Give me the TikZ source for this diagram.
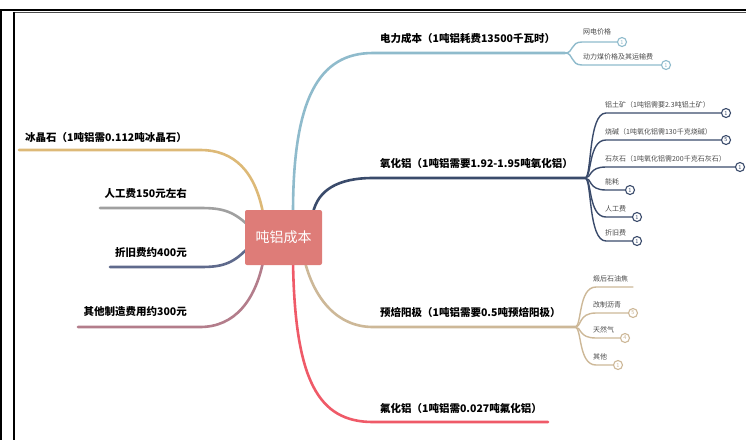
\documentclass[tikz,border=0pt]{standalone}
\usepackage{fontspec}
\newfontfamily\cjk{Noto Sans CJK SC}
\usetikzlibrary{calc,backgrounds}
\definecolor{cblue}{HTML}{8FBBCC}
\definecolor{cnavy}{HTML}{3A4B6B}
\definecolor{ctan}{HTML}{CDB898}
\definecolor{cred}{HTML}{EF5A68}
\definecolor{cgold}{HTML}{DDB977}
\definecolor{cgray}{HTML}{A0A0A0}
\definecolor{cnavyb}{HTML}{5F6A8C}
\definecolor{cmauve}{HTML}{B37D8B}
\definecolor{ccenter}{HTML}{DE7C78}
\definecolor{csub}{HTML}{4A4A4A}
\tikzset{
  centerbox/.style={fill=ccenter, rounded corners=2pt, minimum width=77pt, minimum height=55pt,
    text=white, font=\cjk\fontsize{14}{16}\selectfont, inner sep=0pt},
  mainlbl/.style={inner sep=0pt, font=\cjk\bfseries\fontsize{10.5}{12}\selectfont, text=black},
  sublbl/.style={inner sep=0pt, font=\cjk\fontsize{7}{8}\selectfont, text=csub},
  mainline/.style={line width=2.6pt, line cap=round},
  subline/.style={line width=1.4pt, line cap=round},
  knob/.style={circle, draw, fill=white, line width=1.1pt, minimum size=9pt, inner sep=0pt,
    font=\sffamily\fontsize{6}{6}\selectfont},
}
\begin{document}
\begin{tikzpicture}[x=1pt,y=-1pt]
\useasboundingbox (0,0) rectangle (746,440);
% frames
\draw[line width=2pt, black] (0,9.5) -- (746,9.5);
\draw[line width=1.5pt, black] (1.2,9) -- (1.2,440);
\draw[line width=1pt, black!70] (14,12.5) -- (746,12.5);
\draw[line width=2pt, black] (14,12) -- (14,440);

% center
\node[centerbox] (c) at (283.5,237.5) {吨铝成本};

% label nodes right
\node[mainlbl, anchor=base west] (l1) at (380,42) {电力成本（1吨铝耗费13500千瓦时）};
\node[mainlbl, anchor=base west] (l2) at (380,167) {氧化铝（1吨铝需要1.92-1.95吨氧化铝）};
\node[mainlbl, anchor=base west] (l3) at (380,316) {预焙阳极（1吨铝需要0.5吨预焙阳极）};
\node[mainlbl, anchor=base west] (l4) at (380,412) {氟化铝（1吨铝需0.027吨氟化铝）};
% label nodes left
\node[mainlbl, anchor=base east] (m1) at (187,141) {冰晶石（1吨铝需0.112吨冰晶石）};
\node[mainlbl, anchor=base east] (m2) at (187,197) {人工费150元左右};
\node[mainlbl, anchor=base east] (m3) at (187,256) {折旧费约400元};
\node[mainlbl, anchor=base east] (m4) at (187,315) {其他制造费用约300元};

% branch coordinates
\coordinate (b1s) at (373,53);  \coordinate (b1e) at (565,53);
\coordinate (b2s) at (373,178); \coordinate (b2e) at (585,178);
\coordinate (b3s) at (373,327); \coordinate (b3e) at (575,327);
\coordinate (b4s) at (373,422); \coordinate (b4e) at (548,422);
\coordinate (a1s) at (200,150); \coordinate (a1e) at (19,150);
\coordinate (a2s) at (200,208); \coordinate (a2e) at (100,208);
\coordinate (a3s) at (200,267); \coordinate (a3e) at (110,267);
\coordinate (a4s) at (200,327); \coordinate (a4e) at (78,327);

% sub labels blue
\node[sublbl, anchor=base west] (s11) at (583,34) {网电价格};
\node[sublbl, anchor=base west] (s12) at (583,59) {动力煤价格及其运输费};
\node[knob, draw=cblue, text=cblue] (k11) at (622,42) {1};
\node[knob, draw=cblue, text=cblue] (k12) at (666,65) {1};
% sub labels navy
\node[sublbl, anchor=base west] (s21) at (605,107) {铝土矿（1吨铝需要2.3吨铝土矿）};
\node[sublbl, anchor=base west] (s22) at (605,134) {烧碱（1吨氧化铝需130千克烧碱）};
\node[sublbl, anchor=base west] (s23) at (605,161) {石灰石（1吨氧化铝需200千克石灰石）};
\node[sublbl, anchor=base west] (s24) at (605,184) {能耗};
\node[sublbl, anchor=base west] (s25) at (605,211) {人工费};
\node[sublbl, anchor=base west] (s26) at (605,235) {折旧费};
\node[knob, draw=cnavy, text=cnavy] (k21) at (726,113) {1};
\node[knob, draw=cnavy, text=cnavy] (k22) at (726,140) {5};
\node[knob, draw=cnavy, text=cnavy] (k23) at (740,167) {1};
\node[knob, draw=cnavy, text=cnavy] (k24) at (630,190) {1};
\node[knob, draw=cnavy, text=cnavy] (k25) at (637,217) {1};
\node[knob, draw=cnavy, text=cnavy] (k26) at (637,241) {1};
% sub labels tan
\node[sublbl, anchor=base west] (s31) at (593,281) {煅后石油焦};
\node[sublbl, anchor=base west] (s32) at (593,307) {改制沥青};
\node[sublbl, anchor=base west] (s33) at (593,332) {天然气};
\node[sublbl, anchor=base west] (s34) at (593,359) {其他};
\coordinate (k31) at (633,287);
\node[knob, draw=ctan, text=ctan] (k32) at (633,313) {5};
\node[knob, draw=ctan, text=ctan] (k33) at (625,338) {4};
\node[knob, draw=ctan, text=ctan] (k34) at (618,365) {1};

\begin{scope}[on background layer]
% main right branches
\draw[mainline, cblue] ($(c.north)+(9.5,3)$) .. controls (293,100) and (318,53) .. (b1s) -- (b1e);
\draw[mainline, cnavy] ($(c.north)+(29.5,3)$) .. controls (318,190) and (338,178) .. (b2s) -- (b2e);
\draw[mainline, ctan] ($(c.south)+(21.5,-3)$) .. controls (315,300) and (338,327) .. (b3s) -- (b3e);
\draw[mainline, cred] ($(c.south)+(9.5,-3)$) .. controls (295,380) and (318,422) .. (b4s) -- (b4e);
% main left branches
\draw[mainline, cgold] ($(c.north)+(-20.5,3)$) .. controls (255,172) and (235,150) .. (a1s) -- (a1e);
\draw[mainline, cgray] ($(c.west)+(3,-12.5)$) .. controls (232,210) and (220,208) .. (a2s) -- (a2e);
\draw[mainline, cnavyb] ($(c.west)+(3,10.5)$) .. controls (232,265) and (220,267) .. (a3s) -- (a3e);
\draw[mainline, cmauve] ($(c.south)+(-20.5,-3)$) .. controls (255,300) and (235,327) .. (a4s) -- (a4e);
% blue subs
\draw[subline, cblue] (b1e) .. controls (574,53) and (570,42) .. (582,42) -- (k11.west);
\draw[subline, cblue] (b1e) .. controls (574,53) and (570,65) .. (582,65) -- (k12.west);
% navy subs
\foreach \y/\k in {113/k21,140/k22,167/k23,190/k24,217/k25,241/k26}{
  \draw[subline, cnavy] (b2e) .. controls (592,178) and (588,\y) .. (606,\y) -- (\k.west);
}
% tan subs
\draw[subline, ctan] (b3e) .. controls (582,327) and (578,287) .. (596,287) -- (k31);
\foreach \y/\k in {313/k32,338/k33,365/k34}{
  \draw[subline, ctan] (b3e) .. controls (582,327) and (578,\y) .. (596,\y) -- (\k.west);
}
\end{scope}
\end{tikzpicture}
\end{document}
